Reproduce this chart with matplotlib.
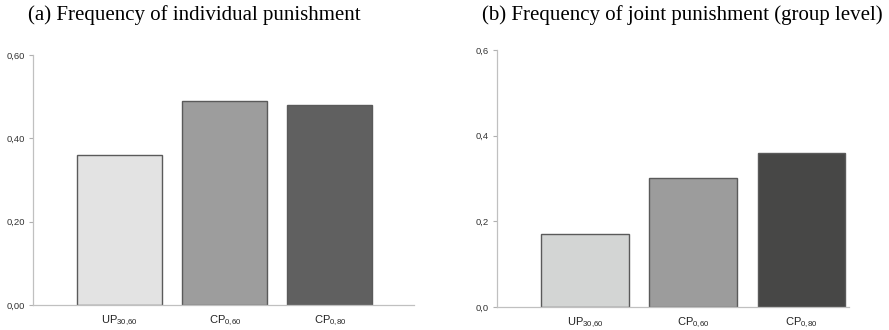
import matplotlib
matplotlib.use("Agg")
import matplotlib.pyplot as plt

# Données
categories = ["UP$_{\\mathregular{30{,}60}}$", "CP$_{\\mathregular{0{,}60}}$", "CP$_{\\mathregular{0{,}80}}$"]
individual = [0.36, 0.49, 0.48]
joint = [0.17, 0.30, 0.36]
ticks_a = [0.0, 0.2, 0.4, 0.6]
ticklabels_a = ["0,00", "0,20", "0,40", "0,60"]
ticks_b = [0.0, 0.2, 0.4, 0.6]
ticklabels_b = ["0,0", "0,2", "0,4", "0,6"]
colors_a = ["#e3e3e3", "#9d9d9d", "#606060"]
colors_b = ["#d3d5d4", "#9c9c9c", "#474746"]

fig = plt.figure(figsize=(8.89, 3.30), dpi=100)
ax1 = fig.add_axes([0.0371, 0.0758, 0.4286, 0.7576])
ax2 = fig.add_axes([0.5591, 0.0697, 0.3959, 0.7788])


def style(ax, values, colors, ticks, labels, xlim, width):
    x = list(range(len(values)))
    ax.bar(x, values, width=width, color=colors, edgecolor="#5a5a5a", linewidth=1.0)
    ax.set_ylim(0, 0.6)
    ax.set_xlim(*xlim)
    ax.set_yticks(ticks)
    ax.set_yticklabels(labels, fontsize=6.8, color="#333333", family="Liberation Sans")
    ax.set_xticks(x)
    ax.set_xticklabels(categories, fontsize=8, color="#222222", family="Liberation Sans")
    ax.tick_params(axis="x", length=0, pad=6)
    ax.tick_params(axis="y", length=3, color="#b0b0b0", width=0.8, pad=3)
    for s in ["top", "right"]:
        ax.spines[s].set_visible(False)
    for s in ["left", "bottom"]:
        ax.spines[s].set_color("#c0c0c0")
        ax.spines[s].set_linewidth(0.9)


style(ax1, individual, colors_a, ticks_a, ticklabels_a, (-0.824, 2.80), 0.81)
style(ax2, joint, colors_b, ticks_b, ticklabels_b, (-0.815, 2.44), 0.81)

fig.text(0.219, 0.953, "(a) Frequency of individual punishment", ha="center", va="center",
         fontsize=15, family="Liberation Serif")
fig.text(0.768, 0.953, "(b) Frequency of joint punishment (group level)", ha="center", va="center",
         fontsize=15, family="Liberation Serif")

fig.savefig("out.png", dpi=100)
